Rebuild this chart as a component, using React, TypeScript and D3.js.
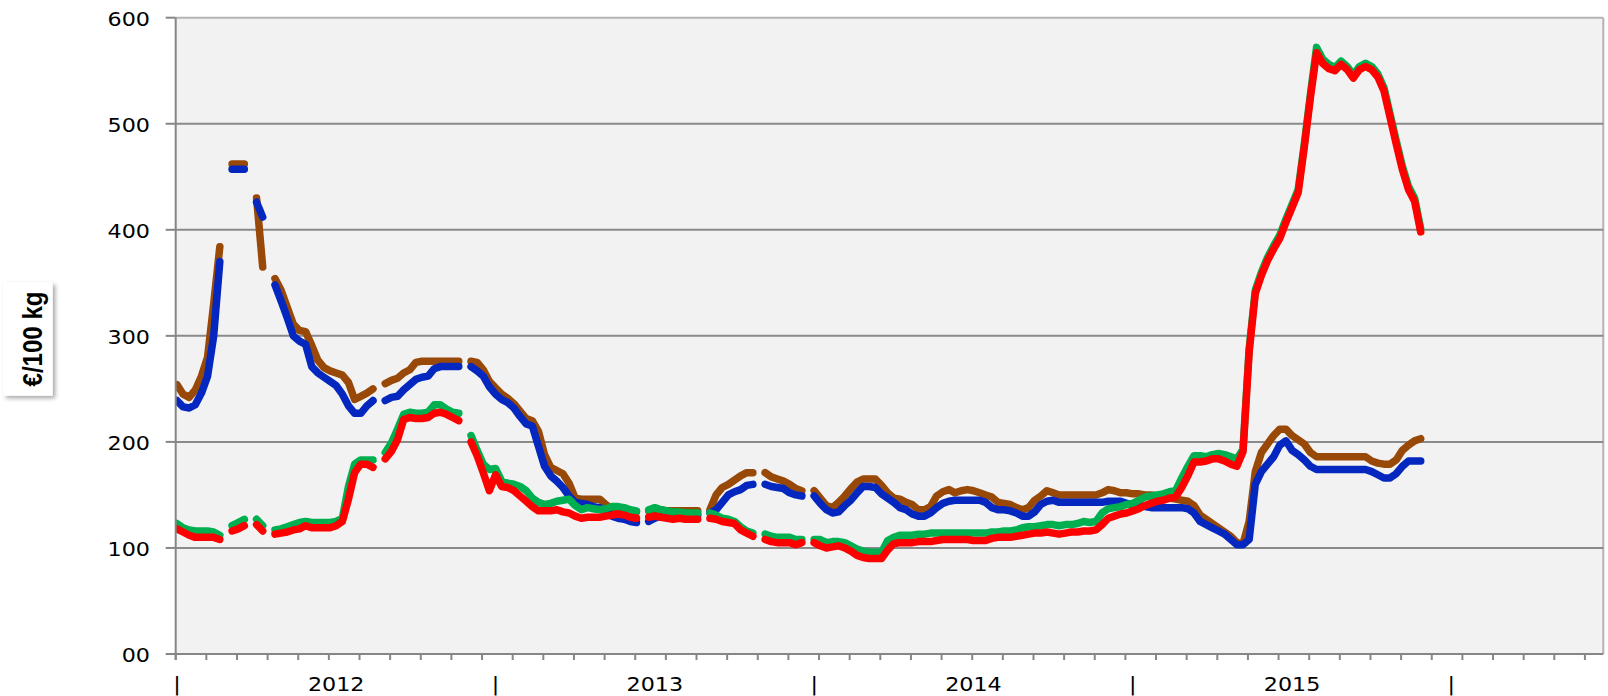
import React from 'react';
import * as d3 from 'd3';

const N = 233;

const brown: (number | null)[] = [
  254, 245, 242, 249, 262, 280, 330, 384, null, 462,
  462, 462, null, 430, 365, null, 354, 343, 327, 311,
  305, 304, 291, 277, 270, 267, 265, 263, 256, 240,
  243, 246, 250, null, 255, 258, 260, 265, 268, 275,
  276, 276, 276, 276, 276, 276, 276, null, 276, 275,
  268, 257, 251, 245, 241, 236, 229, 222, 220, 210,
  188, 176, 173, 170, 161, 147, 146, 146, 146, 146,
  141, 137, 136, 136, 135, 134, null, 135, 136, 136,
  135, 135, 135, 135, 135, 135, null, 136, 150, 157,
  160, 164, 168, 171, 171, null, 171, 167, 165, 163,
  160, 156, 154, null, 154, 147, 140, 138, 143, 149,
  156, 162, 165, 165, 165, 159, 152, 147, 146, 143,
  141, 136, 136, 139, 149, 153, 155, 152, 154, 155,
  154, 152, 150, 148, 143, 142, 141, 138, 136, 138,
  145, 149, 154, 152, 150, 150, 150, 150, 150, 150,
  150, 152, 155, 154, 152, 152, 151, 151, 150, 150,
  149, 148, 147, 146, 145, 144, 140, 131, 127, 123,
  119, 115, 111, 105, 104, 125, 172, 190, 198, 206,
  212, 212, 206, 202, 198, 190, 186, 186, 186, 186,
  186, 186, 186, 186, 186, 182, 180, 179, 179, 183,
  192, 197, 201, 203,
];

const blue: (number | null)[] = [
  239, 233, 232, 235, 246, 262, 300, 370, null, 457,
  457, 457, null, 426, 412, null, 348, 333, 317, 300,
  295, 292, 271, 265, 261, 257, 253, 245, 234, 227,
  227, 234, 239, null, 239, 242, 243, 249, 254, 259,
  261, 262, 269, 271, 271, 271, 271, null, 271, 267,
  262, 252, 245, 240, 237, 232, 224, 217, 215, 196,
  177, 168, 163, 157, 149, 143, 142, 141, 139, 138,
  135, 130, 128, 127, 125, 124, null, 125, 128, 130,
  131, 131, 131, 131, 131, 131, null, 133, 136, 143,
  150, 153, 155, 159, 160, null, 160, 158, 157, 156,
  152, 150, 149, null, 149, 142, 136, 133, 134, 140,
  145, 152, 158, 158, 157, 151, 147, 143, 138, 136,
  132, 130, 130, 133, 138, 142, 144, 145, 145, 145,
  145, 145, 143, 138, 136, 136, 135, 133, 130, 130,
  134, 141, 144, 145, 143, 143, 143, 143, 143, 143,
  143, 143, 144, 144, 144, 142, 141, 140, 139, 138,
  138, 138, 138, 138, 138, 137, 133, 125, 122, 119,
  116, 113, 108, 103, 103, 108, 160, 172, 179, 186,
  197, 201, 192, 188, 183, 177, 174, 174, 174, 174,
  174, 174, 174, 174, 174, 172, 169, 166, 166, 170,
  177, 182, 182, 182,
];

const green: (number | null)[] = [
  123, 119, 117, 116, 116, 116, 115, 112, null, 121,
  124, 127, null, 127, 121, null, 117, 118, 120, 122,
  124, 125, 124, 124, 124, 124, 125, 128, 158, 179,
  183, 183, 183, null, 190, 199, 212, 226, 228, 227,
  227, 228, 235, 235, 231, 228, 227, null, 206, 192,
  179, 174, 175, 163, 161, 160, 158, 154, 147, 143,
  141, 142, 144, 145, 146, 140, 136, 138, 137, 136,
  137, 139, 139, 138, 136, 135, null, 136, 138, 136,
  135, 134, 134, 133, 133, 133, null, 133, 131, 128,
  127, 125, 120, 116, 114, null, 113, 111, 110, 110,
  110, 108, 108, null, 108, 108, 105, 106, 106, 105,
  102, 99, 97, 96, 96, 96, 107, 110, 112, 112,
  112, 113, 113, 114, 114, 114, 114, 114, 114, 114,
  114, 114, 114, 115, 115, 116, 116, 117, 119, 120,
  120, 121, 122, 122, 121, 122, 122, 123, 125, 124,
  125, 133, 137, 138, 139, 141, 142, 145, 148, 149,
  150, 151, 153, 154, 166, 177, 187, 187, 186, 188,
  189, 188, 186, 184, 193, 288, 343, 360, 374, 385,
  395, 410, 424, 438, 481, 528, 572, 561, 556, 553,
  559, 554, 546, 554, 557, 554, 547, 534, 509, 484,
  460, 441, 430, 401,
];

const red: (number | null)[] = [
  118, 115, 112, 110, 110, 110, 110, 108, null, 116,
  118, 121, null, 122, 116, null, 113, 114, 115, 117,
  118, 121, 119, 119, 119, 119, 121, 125, 146, 171,
  179, 179, 176, null, 184, 191, 202, 221, 223, 222,
  222, 223, 227, 228, 226, 223, 220, null, 200, 187,
  171, 154, 169, 158, 157, 154, 149, 144, 139, 135,
  135, 135, 136, 134, 133, 130, 128, 129, 129, 129,
  130, 131, 132, 131, 129, 128, null, 129, 130, 129,
  128, 127, 128, 127, 127, 127, null, 128, 127, 125,
  124, 123, 117, 114, 111, null, 108, 106, 105, 105,
  105, 103, 105, null, 105, 102, 100, 101, 102, 100,
  97, 93, 91, 90, 90, 90, 98, 104, 105, 105,
  105, 106, 106, 106, 107, 108, 108, 108, 108, 108,
  107, 107, 107, 109, 110, 110, 110, 111, 112, 113,
  114, 114, 115, 114, 113, 114, 115, 115, 116, 116,
  117, 122, 128, 130, 132, 133, 135, 137, 140, 142,
  144, 145, 147, 148, 157, 168, 181, 181, 182, 184,
  184, 182, 179, 177, 191, 285, 340, 357, 371, 382,
  392, 407, 421, 435, 478, 525, 567, 557, 552, 550,
  556, 551, 543, 551, 554, 551, 544, 531, 506, 481,
  457, 438, 427, 398,
];

const yTickValues = [0, 100, 200, 300, 400, 500, 600];
const yTickLabels = ['00', '100', '200', '300', '400', '500', '600'];
const xLabelIndex = [0, 26, 52, 78, 104, 130, 156, 182, 208];
const xLabelText = ['|', '2012', '|', '2013', '|', '2014', '|', '2015', '|'];
const yTitle = '€/100 kg';

const seriesList = [
  { name: 'brown', values: brown, color: '#984807' },
  { name: 'blue', values: blue, color: '#0428BF' },
  { name: 'green', values: green, color: '#00B050' },
  { name: 'red', values: red, color: '#FF0000' },
];

export default function App() {
  const W = 1608;
  const H = 696;
  const left = 175.7;
  const right = 1603.3;
  const top = 17.7;
  const bottom = 654;

  const x = d3.scaleLinear().domain([-0.2, N - 0.2]).range([left, right]);
  const y = d3.scaleLinear().domain([0, 600]).range([bottom, top]);

  const line = d3
    .line<number | null>()
    .defined((d) => d != null)
    .x((_, i) => x(i))
    .y((d) => y(d as number));

  const tickIdx = d3.range(0, N + 1, 5);
  const font = 'DejaVu Sans, Verdana, sans-serif';

  return (
    <svg
      width={W}
      height={H}
      style={{ position: 'absolute', left: 0, top: 0, background: '#fff' }}
    >
      <defs>
        <clipPath id="plotClip">
          <rect x={left} y={top} width={right - left} height={bottom - top} />
        </clipPath>
        <filter id="shadow" x="-30%" y="-30%" width="160%" height="160%">
          <feDropShadow dx="2.5" dy="2.5" stdDeviation="2" floodColor="#000" floodOpacity="0.35" />
        </filter>
      </defs>
      <rect x={left} y={top} width={right - left} height={bottom - top} fill="#F2F2F2" />
      <line x1={left} x2={right} y1={top} y2={top} stroke="#B4B4B4" strokeWidth={2} />
      <line x1={right} x2={right} y1={top} y2={bottom} stroke="#B4B4B4" strokeWidth={2} />
      {yTickValues
        .filter((v) => v > 0 && v < 600)
        .map((v) => (
          <line key={v} x1={left} x2={right} y1={y(v)} y2={y(v)} stroke="#8A8A8A" strokeWidth={2} />
        ))}
      <g clipPath="url(#plotClip)">
        {seriesList.map((s) => (
          <path
            key={s.name}
            d={line(s.values) || ''}
            fill="none"
            stroke={s.color}
            strokeWidth={7.5}
            strokeLinecap="round"
            strokeLinejoin="round"
          />
        ))}
      </g>
      <line x1={left} x2={left} y1={top} y2={bottom + 6} stroke="#868686" strokeWidth={2} />
      <line x1={left} x2={right} y1={bottom} y2={bottom} stroke="#868686" strokeWidth={2} />
      {yTickValues.map((v) => (
        <line key={'yt' + v} x1={left - 10} x2={left} y1={y(v)} y2={y(v)} stroke="#868686" strokeWidth={2} />
      ))}
      {tickIdx.map((k) => (
        <line key={'xt' + k} x1={x(k - 0.2)} x2={x(k - 0.2)} y1={bottom} y2={bottom + 6} stroke="#868686" strokeWidth={2} />
      ))}
      {yTickValues.map((v, i) => (
        <text
          key={'yl' + v}
          transform={`translate(150, ${y(v) + 8}) scale(1.14,1)`}
          textAnchor="end"
          fontFamily={font}
          fontSize={19.5}
          fill="#000"
        >
          {yTickLabels[i]}
        </text>
      ))}
      {xLabelIndex.map((idx, i) => (
        <text
          key={'xl' + i}
          transform={`translate(${x(idx)}, 690.7) scale(1.14,1)`}
          textAnchor="middle"
          fontFamily={font}
          fontSize={19.5}
          fill="#000"
        >
          {xLabelText[i]}
        </text>
      ))}
      <rect x={3.3} y={282.3} width={49.4} height={113.4} fill="#FFFFFF" filter="url(#shadow)" />
      <text
        transform={`translate(41.7, 339) rotate(-90)`}
        textAnchor="middle"
        fontFamily="Liberation Sans Narrow, Arial Narrow, Liberation Sans, sans-serif"
        fontWeight="bold"
        fontSize={27}
        textLength={95}
        lengthAdjust="spacingAndGlyphs"
        fill="#000"
      >
        {yTitle}
      </text>
    </svg>
  );
}
